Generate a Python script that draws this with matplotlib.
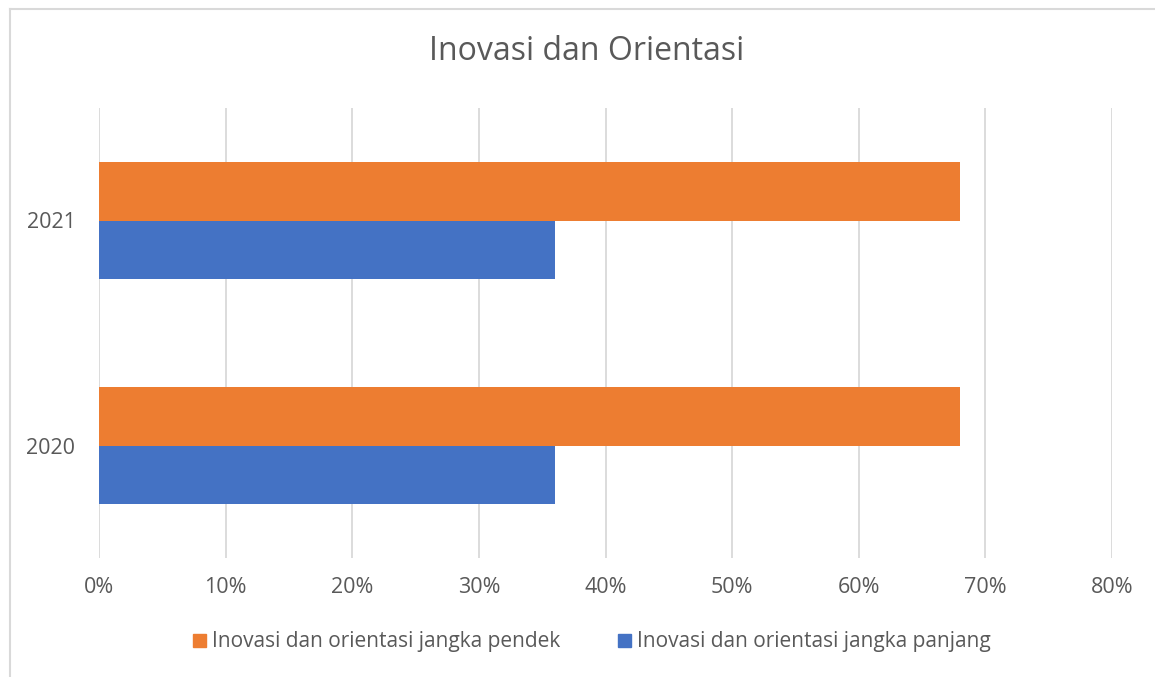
import numpy as np
import matplotlib.pyplot as plt
from matplotlib.lines import Line2D
from matplotlib.patches import Patch
from matplotlib.ticker import PercentFormatter

years = ["2020", "2021"]
pendek = [68, 68]
panjang = [36, 36]
series_names = ["Inovasi dan orientasi jangka pendek",
                "Inovasi dan orientasi jangka panjang"]
title = "Inovasi dan Orientasi"

orange = "#ED7D31"
blue = "#4472C4"
text_col = "#595959"
grid_col = "#D9D9D9"

plt.rcParams['font.family'] = ['Open Sans', 'DejaVu Sans']

fig = plt.figure(figsize=(11.55, 6.77), dpi=100)
ax = fig.add_axes([99 / 1155, 1 - 558 / 677, (1112 - 99) / 1155, (558 - 108) / 677])

y = np.arange(len(years))
h = 0.262
ax.barh(y - h / 2, panjang, height=h, color=blue, zorder=3)
ax.barh(y + h / 2, pendek, height=h, color=orange, zorder=3)

ax.set_xlim(0, 80)
ax.set_ylim(-0.5, 1.5)
ax.set_xticks(np.arange(0, 81, 10))
ax.xaxis.set_major_formatter(PercentFormatter(decimals=0))
ax.set_yticks(y)
ax.set_yticklabels(years)
ax.tick_params(length=0, labelsize=15.5, colors=text_col)
ax.tick_params(axis='x', pad=14)
ax.tick_params(axis='y', pad=17)
ax.grid(axis='x', color=grid_col, linewidth=1.3, zorder=0)
for s in ax.spines.values():
    s.set_visible(False)

fig.text(587 / 1155, 1 - 52 / 677, title, ha='center', va='center',
         fontsize=23, color=text_col)

handles = [Patch(color=orange), Patch(color=blue)]
fig.legend(handles, series_names, loc='center', bbox_to_anchor=(592 / 1155, 1 - 642 / 677),
           ncol=2, frameon=False, fontsize=15, labelcolor=text_col,
           handlelength=0.6, handleheight=0.6, handletextpad=0.3, columnspacing=2.8)

# chart border (only left and top are visible in the crop)
fig.add_artist(Line2D([10 / 1155, 10 / 1155], [0, 1 - 9 / 677], transform=fig.transFigure,
                      color=grid_col, linewidth=1.5))
fig.add_artist(Line2D([10 / 1155, 1], [1 - 9 / 677, 1 - 9 / 677], transform=fig.transFigure,
                      color=grid_col, linewidth=1.5))

fig.savefig("out.png", dpi=100)
